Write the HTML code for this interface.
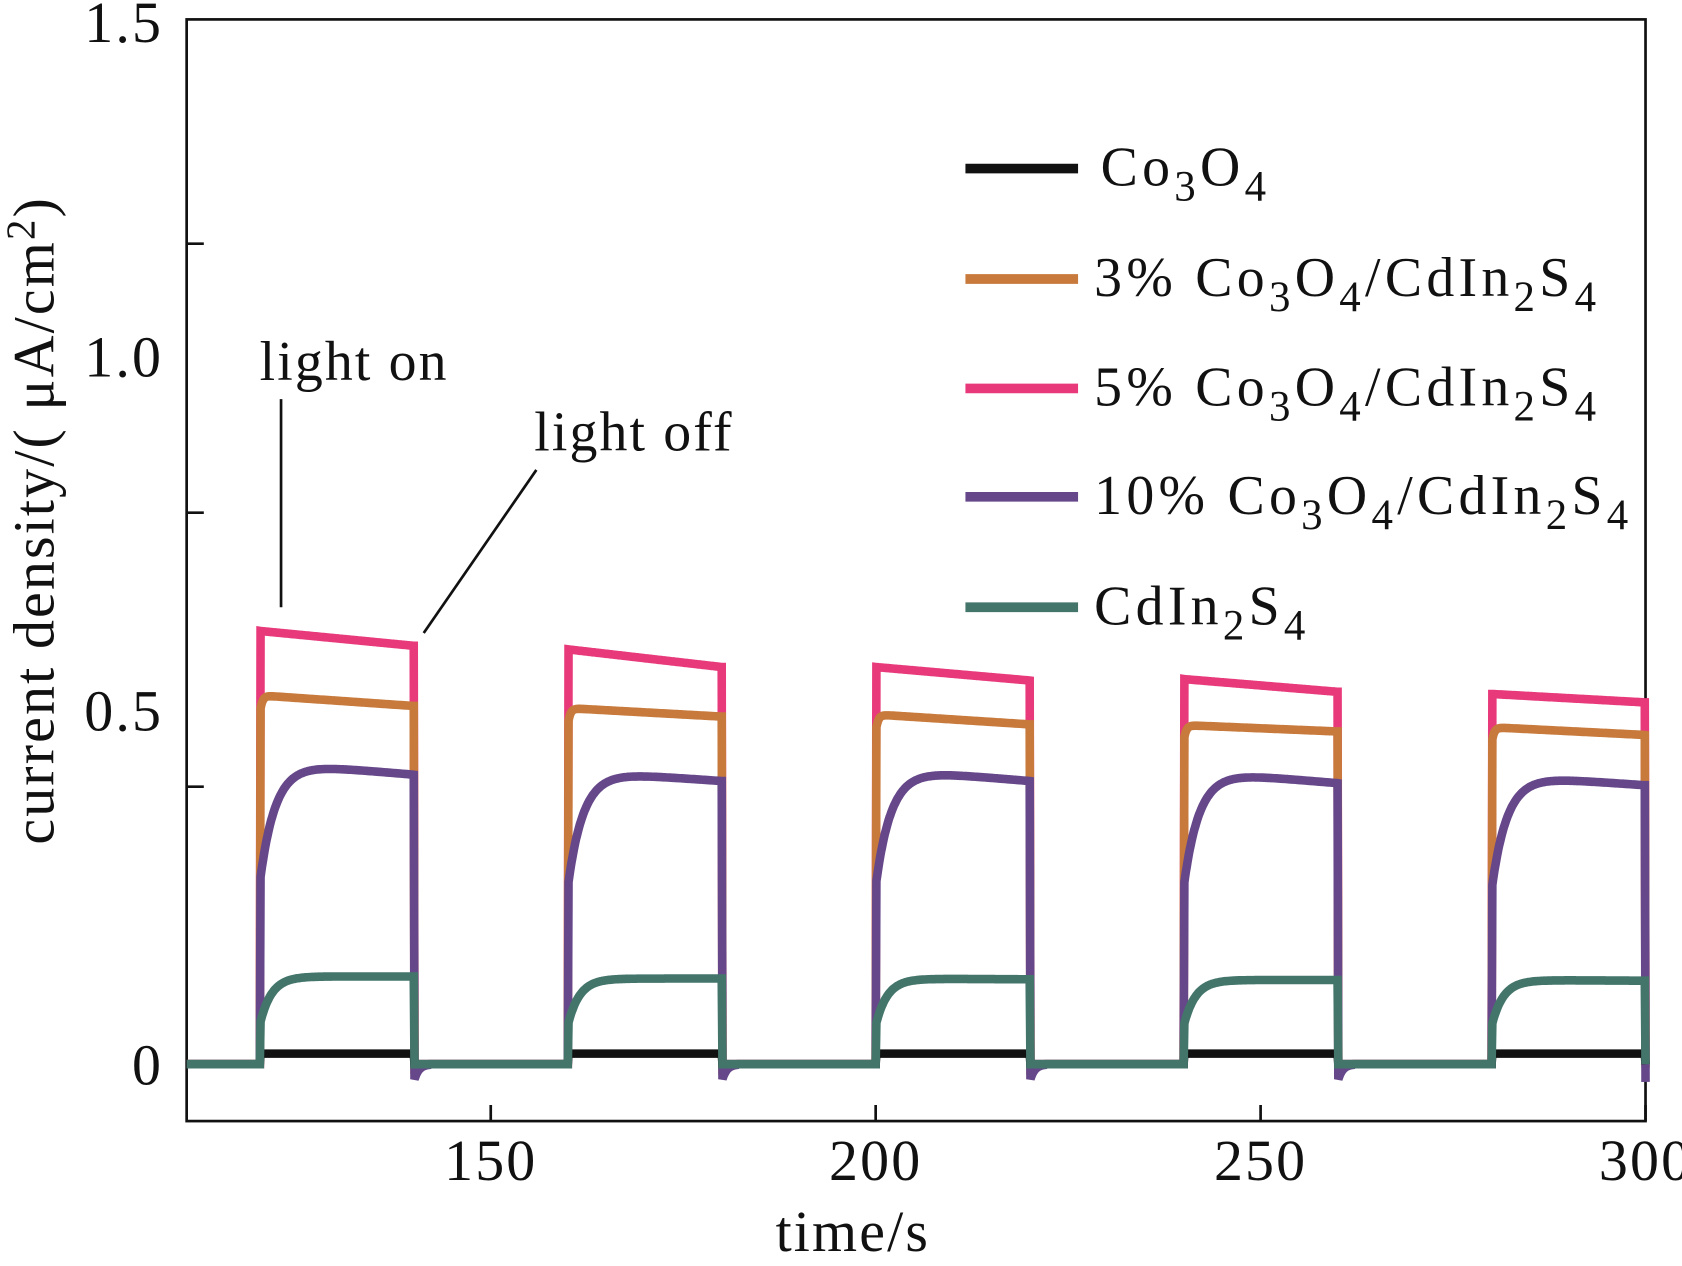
<!DOCTYPE html>
<html><head><meta charset="utf-8"><style>
html,body{margin:0;padding:0;background:#fff;}
svg{display:block;}
text{font-family:"Liberation Serif",serif;fill:#111;}
</style></head><body>
<svg id="chart" width="1682" height="1266" viewBox="0 0 1568 1180" xmlns="http://www.w3.org/2000/svg">
<rect x="174" y="18" width="1360" height="1027" fill="none" stroke="#111" stroke-width="2.5"/>
<g id="series"></g>
<g id="axes"></g>
<g>
<text x="242" y="354" font-size="52" letter-spacing="2">light on</text>
<line x1="262" y1="372" x2="262" y2="566" stroke="#111" stroke-width="2.5"/>
</g>
<g>
<text x="498" y="420" font-size="52" letter-spacing="2">light off</text>
<line x1="500" y1="438" x2="395" y2="590" stroke="#111" stroke-width="2.5"/>
</g>
<text x="795" y="1166" font-size="54" letter-spacing="2" text-anchor="middle">time/s</text>
<text transform="translate(50,485) rotate(-90)" font-size="54" letter-spacing="2" text-anchor="middle">current density/( μA/cm<tspan font-size="38" dy="-18">2</tspan><tspan dy="18">)</tspan></text>
<g id="legend"></g>
</svg>
<script>
const seriesNames = ["5% Co3O4/CdIn2S4","3% Co3O4/CdIn2S4","10% Co3O4/CdIn2S4","Co3O4","CdIn2S4"];
const onTimes = [120,160,200,240,280];
const offTimes = [140,180,220,260,300];
const startCdIn2S4 = [0.124,0.121,0.121,0.119,0.119];
const endCdIn2S4 = [0.124,0.121,0.120,0.119,0.118];
const startCo3O4 = [0.015,0.015,0.015,0.015,0.015];
const endCo3O4 = [0.015,0.015,0.015,0.015,0.015];
const start3 = [0.521,0.503,0.494,0.479,0.476];
const end3 = [0.506,0.491,0.480,0.470,0.465];
const start10 = [0.427,0.415,0.418,0.415,0.409];
const end10 = [0.409,0.400,0.400,0.397,0.394];
const start5 = [0.612,0.586,0.561,0.544,0.523];
const end5 = [0.591,0.561,0.542,0.526,0.511];
const xTicks = [150,200,250,300];
const yTickMarks = [0.392,0.779,1.159];
const yLabelVals = [0,0.5,1.0,1.5];
const yLabels = ["0","0.5","1.0","1.5"];

const X0=110.5, X1=300, PX0=174, PX1=1534;
const xs = t => PX0 + (t-X0)*(PX1-PX0)/(X1-X0);
const ys = v => 992 - v*660;
const NS="http://www.w3.org/2000/svg";
function mk(tag,attrs,parent){const e=document.createElementNS(NS,tag);for(const k in attrs)e.setAttribute(k,attrs[k]);parent.appendChild(e);return e;}

const colors = ["#e8397a","#c87a3c","#66488a","#111111","#44756b"];
const starts = [start5,start3,start10,startCo3O4,startCdIn2S4];
const ends = [end5,end3,end10,endCo3O4,endCdIn2S4];
const jumpFrac = [1,0.95,0.6,1,0.45];
const tau = [0.3,0.3,2.0,0.3,1.5];
const dipAmt = [0,-0.005,-0.025,0,0];
const slugs = ["5pct","3pct","10pct","co3o4","cdin2s4"];

const sg=document.getElementById('series');
for(let s=0;s<5;s++){
  let pts=[];
  for(let t=X0;t<=X1+0.01;t+=0.1){
    let v=0;
    for(let c=0;c<onTimes.length;c++){
      if(t>=onTimes[c]&&t<offTimes[c]){
        const f=(t-onTimes[c])/(offTimes[c]-onTimes[c]);
        const plat=starts[s][c]+(ends[s][c]-starts[s][c])*f;
        const a=jumpFrac[s];
        const r=a+(1-a)*(1-Math.exp(-(t-onTimes[c])/tau[s]));
        v=plat*r;
      } else if(t>=offTimes[c]&&t<offTimes[c]+2){
        const d=t-offTimes[c];
        v=dipAmt[s]*Math.exp(-d/0.6);
      }
    }
    pts.push(xs(t).toFixed(1)+","+ys(v).toFixed(1));
  }
  const p=mk('polyline',{points:pts.join(' '),fill:'none',stroke:colors[s],'stroke-width':8,'stroke-linejoin':'miter'},sg);
  
  
}

const ag=document.getElementById('axes');
xTicks.forEach(v=>{
  const l=mk('line',{x1:xs(v),x2:xs(v),y1:1045,y2:1030,stroke:'#111','stroke-width':2.5},ag);
  
  
  const t=mk('text',{x:xs(v),y:1100,'font-size':54,'letter-spacing':2,'text-anchor':'middle'},ag);
  t.textContent=v;
  
  
});
yTickMarks.forEach(v=>{
  const l=mk('line',{x1:174,x2:190,y1:ys(v),y2:ys(v),stroke:'#111','stroke-width':2.5},ag);
  
  
});
yLabelVals.forEach((v,i)=>{
  const y=Math.max(ys(v),20)+19;
  const t=mk('text',{x:152,y:y,'font-size':54,'letter-spacing':2,'text-anchor':'end'},ag);
  t.textContent=yLabels[i];
  
  
});

const lg=document.getElementById('legend');
const legOrder=[3,1,0,2,4];
const legY=[157,260,362,463,566];
const S=(c)=>'<tspan font-size="40" dy="14">'+c+'</tspan>';
const U=(c)=>'<tspan dy="-14">'+c+'</tspan>';
const legHTML=[
 'Co'+S('3')+U('O')+S('4'),
 '3%  Co'+S('3')+U('O')+S('4')+U('/CdIn')+S('2')+U('S')+S('4'),
 '5%  Co'+S('3')+U('O')+S('4')+U('/CdIn')+S('2')+U('S')+S('4'),
 '10% Co'+S('3')+U('O')+S('4')+U('/CdIn')+S('2')+U('S')+S('4'),
 'CdIn'+S('2')+U('S')+S('4')
];
legOrder.forEach((s,i)=>{
  const g=mk('g',{},lg);
  
  
  mk('line',{x1:900,x2:1005,y1:legY[i],y2:legY[i],stroke:colors[s],'stroke-width':9},g);
  const t=mk('text',{x:(i===0?1026:1020),y:legY[i]+16,'font-size':52,'letter-spacing':4,'xml:space':'preserve'},g);
  t.innerHTML=legHTML[i];
});
</script>
</body></html>
